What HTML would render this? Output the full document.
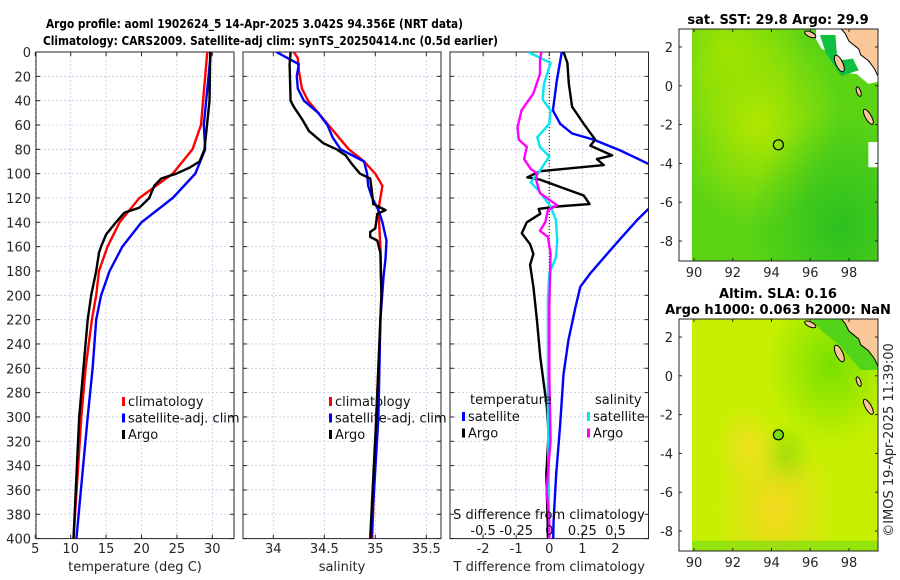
<!DOCTYPE html>
<html><head><meta charset="utf-8"><style>
html,body{margin:0;padding:0;background:#fff;}
svg{display:block;font-family:"DejaVu Sans","Liberation Sans",sans-serif;}
</style></head><body>
<svg id="fig" width="900" height="580" viewBox="0 0 900 580" xmlns="http://www.w3.org/2000/svg">
<defs>
<clipPath id="c1"><rect x="36" y="52" width="198" height="487"/></clipPath>
<clipPath id="c2"><rect x="243" y="52" width="198" height="487"/></clipPath>
<clipPath id="c3"><rect x="450" y="52" width="198" height="487"/></clipPath>
<clipPath id="cm1"><rect x="692" y="29" width="186" height="232"/></clipPath>
<clipPath id="cm2"><rect x="692" y="319" width="186" height="232"/></clipPath>
<radialGradient id="sstY" cx="0.35" cy="0.4" r="0.45"><stop offset="0" stop-color="#b4e800"/><stop offset="1" stop-color="#b4e800" stop-opacity="0"/></radialGradient>
<radialGradient id="sstY2" cx="0.2" cy="0.1" r="0.4"><stop offset="0" stop-color="#a0e400"/><stop offset="1" stop-color="#a0e400" stop-opacity="0"/></radialGradient>
<radialGradient id="sstG" cx="0.8" cy="0.85" r="0.5"><stop offset="0" stop-color="#2cc020"/><stop offset="1" stop-color="#2cc020" stop-opacity="0"/></radialGradient>
<radialGradient id="slaO" cx="0.45" cy="0.82" r="0.35"><stop offset="0" stop-color="#f4d820"/><stop offset="1" stop-color="#f4d820" stop-opacity="0"/></radialGradient>
<radialGradient id="slaO2" cx="0.3" cy="0.55" r="0.18"><stop offset="0" stop-color="#f0e020"/><stop offset="1" stop-color="#f0e020" stop-opacity="0"/></radialGradient>
<radialGradient id="slaG" cx="0.75" cy="0.2" r="0.35"><stop offset="0" stop-color="#78e000"/><stop offset="1" stop-color="#78e000" stop-opacity="0"/></radialGradient>
<radialGradient id="slaG2" cx="0.5" cy="0.6" r="0.15"><stop offset="0" stop-color="#80e000"/><stop offset="1" stop-color="#80e000" stop-opacity="0"/></radialGradient>
</defs>
<g id="titles" fill="#000" font-weight="bold" font-size="12.5">
<text x="46" y="28" textLength="417" lengthAdjust="spacingAndGlyphs">Argo profile: aoml 1902624_5 14-Apr-2025 3.042S 94.356E (NRT data)</text>
<text x="43" y="45" textLength="455" lengthAdjust="spacingAndGlyphs">Climatology: CARS2009. Satellite-adj clim: synTS_20250414.nc (0.5d earlier)</text>
</g>
<g id="panels"></g>
<g id="maps"></g>
<text x="895" y="440" font-size="13" fill="#262626" text-anchor="middle" transform="rotate(-90 895 440)" dy="-2">©IMOS 19-Apr-2025 11:39:00</text>
</svg>
<script>
// ---- data ----
const depthTicks=[0,20,40,60,80,100,120,140,160,180,200,220,240,260,280,300,320,340,360,380,400];
const tTicks=[5,10,15,20,25,30];
const sTicks=[34,34.5,35,35.5];
const dTicks=[-2,-1,0,1,2];
const dsTicks=[-0.5,-0.25,0,0.25,0.5];
const dsTickLabels=["-0.5","-0.25","0","0.25","0.5"];
// temperature profiles [depth, value]
const tClimDepth=[0,60,80,100,120,140,160,180,200,220,260,300,400];
const tClim=[29.3,28.4,27.2,24.4,19.7,16.9,15.2,14.0,13.6,13.0,12.1,11.5,10.4];
const tSatDepth=[0,60,80,100,120,140,160,180,200,220,260,300,400];
const tSat=[29.8,28.8,29.0,27.6,24.4,20.0,17.3,15.5,14.3,13.6,13.1,12.4,10.8];
const tArgoDepth=[0,40,80,90,95,100,104,110,120,128,132,140,150,160,165,180,200,220,260,300,400];
const tArgo=[29.7,29.6,28.9,28.2,26.8,24.9,22.8,21.8,21.1,19.7,17.6,16.4,15.0,14.3,14.0,13.6,12.9,12.4,11.8,11.2,10.4];
// salinity profiles
const sClimDepth=[0,5,15,30,40,60,80,90,100,110,130,160,200,220,300,400];
const sClim=[34.20,34.24,34.25,34.28,34.34,34.54,34.74,34.89,35.0,35.07,35.03,35.05,35.06,35.05,35.01,34.97];
const sSatDepth=[0,10,20,30,40,50,60,70,80,90,100,110,120,130,140,155,170,185,220,300,400];
const sSat=[34.03,34.25,34.23,34.24,34.30,34.44,34.53,34.58,34.66,34.89,34.92,34.93,34.97,35.03,35.07,35.11,35.10,35.08,35.05,35.03,34.96];
const sArgoDepth=[0,10,40,45,55,65,75,80,85,92,100,104,110,125,130,133,145,148,152,155,165,200,220,300,400];
const sArgo=[34.17,34.16,34.17,34.20,34.28,34.35,34.49,34.62,34.71,34.77,34.85,34.95,34.96,34.98,35.10,35.02,35.0,34.95,34.95,35.02,35.05,35.06,35.05,35.01,34.95];
// differences
const dTSatDepth=[0,23,48,59,67,72,81,92,105,118,129,138,152,166,182,193,210,237,265,306,347,385,400];
const dTSat=[0.38,0.23,0.11,0.33,0.69,1.34,2.15,3.0,3.6,3.4,3.0,2.66,2.2,1.75,1.24,0.94,0.79,0.58,0.43,0.33,0.21,0.13,0.12];
const dTArgoDepth=[0,9,26,45,49,59,72,77,85,88,93,98,103,105,118,125,127,129,133,140,149,158,166,175,193,221,251,292,314,347,385,400];
const dTArgo=[0.43,0.55,0.59,0.69,0.79,1.04,1.39,1.24,1.9,1.44,1.65,-0.27,-0.66,-0.27,1.04,1.22,0.23,-0.32,-0.27,-0.68,-0.83,-0.58,-0.48,-0.58,-0.48,-0.37,-0.27,-0.07,-0.02,-0.09,-0.05,-0.04];
const dSSatDepth=[0,9,26,39,48,59,70,78,86,99,107,114,127,138,155,169,182,204,237,292,400];
const dSSat=[-0.16,0.01,-0.04,-0.05,0.01,0.0,-0.09,-0.07,0.0,-0.08,-0.14,-0.08,0.01,0.05,0.06,0.05,0.0,-0.01,-0.01,-0.01,0.0];
const dSArgoDepth=[0,7,18,34,48,62,72,78,88,96,100,105,116,126,130,140,147,152,166,210,265,319,360,385,400];
const dSArgo=[-0.06,-0.07,-0.07,-0.12,-0.21,-0.24,-0.23,-0.17,-0.19,-0.14,-0.09,-0.10,-0.07,0.06,-0.01,-0.03,-0.07,-0.01,0.01,0.0,0.0,0.01,-0.02,0.0,0.0];
// map
const latTicks=[2,0,-2,-4,-6,-8];
const lonTicks=[90,92,94,96,98];
const floatLon=94.356, floatLat=-3.042;

// ---- helpers ----
const NS="http://www.w3.org/2000/svg";
function mk(tag,attrs,parent){const e=document.createElementNS(NS,tag);for(const k in attrs)e.setAttribute(k,attrs[k]);parent.appendChild(e);return e;}
const top0=52,bot0=538.6;
function yD(d){return top0+(d/400)*(bot0-top0);}
function lin(d0,d1,p0,p1){return v=>p0+(v-d0)/(d1-d0)*(p1-p0);}
const panels=document.getElementById('panels');
const grey="#262626";

function drawPanel(x0,w,xs,ticks,labels,name,showY,xlabel){
  const g=mk('g',{},panels);
  
  
  depthTicks.forEach(d=>{const l=mk('line',{x1:x0,x2:x0+w,y1:yD(d),y2:yD(d),stroke:"#c4cbe6","stroke-width":0.8,"stroke-dasharray":"2,2"},g);
    
    mk('line',{x1:x0,x2:x0+4,y1:yD(d),y2:yD(d),stroke:grey},g);mk('line',{x1:x0+w-4,x2:x0+w,y1:yD(d),y2:yD(d),stroke:grey},g);
    if(showY){const t=mk('text',{x:x0-5,y:yD(d)+5,"font-size":13,fill:grey,"text-anchor":"end"},g);t.textContent=d;
      }
  });
  ticks.forEach((v,i)=>{const x=xs(v);
    const l=mk('line',{x1:x,x2:x,y1:top0,y2:bot0,stroke:"#c4cbe6","stroke-width":0.8,"stroke-dasharray":"2,2"},g);
    
    mk('line',{x1:x,x2:x,y1:top0,y2:top0+4,stroke:grey},g);mk('line',{x1:x,x2:x,y1:bot0-4,y2:bot0,stroke:grey},g);
    if(labels){const t=mk('text',{x:x,y:553,"font-size":13,fill:grey,"text-anchor":"middle"},g);t.textContent=labels[i];
      }
  });
  const r=mk('rect',{x:x0,y:top0,width:w,height:bot0-top0,fill:"none",stroke:grey,"stroke-width":1},g);
  
  if(xlabel){const t=mk('text',{x:x0+w/2,y:571,"font-size":13,fill:grey,"text-anchor":"middle"},g);t.textContent=xlabel;
    }
  return g;
}
function line(g,depths,vals,xs,color,clip,name){
  const pts=depths.map((d,i)=>xs(vals[i]).toFixed(1)+","+yD(d).toFixed(1)).join(" ");
  const p=mk('polyline',{points:pts,fill:"none",stroke:color,"stroke-width":2.4,"stroke-linejoin":"round","clip-path":"url(#"+clip+")"},g);
  
}
function legend(g,x,y,items){
  items.forEach((it,i)=>{const yy=y+i*16.5;
    const m=mk('rect',{x:x,y:yy-9,width:3,height:9,fill:it[1]},g);
    
    const t=mk('text',{x:x+6,y:yy,"font-size":13,fill:"#111"},g);t.textContent=it[0];
    });
}
const xT=lin(5,30,35.3,212.3);
const g1=drawPanel(36,198,xT,tTicks,tTicks.map(String),'temperature-panel',true,'temperature (deg C)');
line(g1,tClimDepth,tClim,xT,"#ff0000","c1","climatology-temp-line");
line(g1,tSatDepth,tSat,xT,"#0000ff","c1","satellite-temp-line");
line(g1,tArgoDepth,tArgo,xT,"#000000","c1","argo-temp-line");
legend(g1,122,406,[["climatology","#ff0000"],["satellite-adj. clim","#0000ff"],["Argo","#000"]]);
const xS=lin(34,35,273.3,375.3);
const g2=drawPanel(243,198,xS,sTicks,["34","34.5","35","35.5"],'salinity-panel',false,'salinity');
line(g2,sClimDepth,sClim,xS,"#ff0000","c2","climatology-sal-line");
line(g2,sSatDepth,sSat,xS,"#0000ff","c2","satellite-sal-line");
line(g2,sArgoDepth,sArgo,xS,"#000000","c2","argo-sal-line");
legend(g2,329,406,[["climatology","#ff0000"],["satellite-adj. clim","#0000ff"],["Argo","#000"]]);
const xDT=lin(-3,3,450,648.5);
const xDS=lin(-0.75,0.75,450,648.5);
const g3=drawPanel(450,198.5,xDT,dTicks,null,'difference-panel',false,'T difference from climatology');
dTicks.forEach(v=>{const t=mk('text',{x:xDT(v),y:553,"font-size":13,fill:grey,"text-anchor":"middle"},g3);t.textContent=v;
  });
const z=mk('line',{x1:xDT(0),x2:xDT(0),y1:top0,y2:bot0,stroke:"#000","stroke-width":1,"stroke-dasharray":"1,2"},g3);

line(g3,dTSatDepth,dTSat,xDT,"#0000ff","c3","satellite-t-diff-line");
line(g3,dTArgoDepth,dTArgo,xDT,"#000000","c3","argo-t-diff-line");
line(g3,dSSatDepth,dSSat,xDS,"#00e8f0","c3","satellite-s-diff-line");
line(g3,dSArgoDepth,dSArgo,xDS,"#ff00ff","c3","argo-s-diff-line");
let tt=mk('text',{x:470,y:404,"font-size":13,fill:"#111"},g3);tt.textContent="temperature";

tt=mk('text',{x:595,y:404,"font-size":13,fill:"#111"},g3);tt.textContent="salinity";

legend(g3,462,421,[["satellite","#0000ff"],["Argo","#000"]]);
legend(g3,587,421,[["satellite","#00e8f0"],["Argo","#ff00ff"]]);
tt=mk('text',{x:549,y:519,"font-size":13,fill:"#111","text-anchor":"middle"},g3);tt.textContent="S difference from climatology";

dsTicks.forEach((v,i)=>{const t=mk('text',{x:xDS(v),y:535,"font-size":13,fill:"#111","text-anchor":"middle"},g3);t.textContent=dsTickLabels[i];
  });

// ---- maps ----
const maps=document.getElementById('maps');
function drawMap(top,name,kind,titles){
  const g=mk('g',{},maps);
  
  const ax0=679,ax1=878,h=232;
  const lx=lin(90,98,694,849), ly=lin(2,-8,top+18,top+212);
  const clip=kind==='sst'?'cm1':'cm2';
  const L=mk('g',{"clip-path":"url(#"+clip+")"},g);
  if(kind==='sst'){
    mk('rect',{x:692,y:top,width:186,height:h,fill:"#5cd414"},L);
    mk('rect',{x:692,y:top,width:186,height:h,fill:"url(#sstY)"},L);
    mk('rect',{x:692,y:top,width:186,height:h,fill:"url(#sstY2)"},L);
    mk('rect',{x:692,y:top,width:186,height:h,fill:"url(#sstG)"},L);
    mk('path',{d:`M${lx(96.3)},${top} L878,${top} L878,${ly(0.2)} L${lx(99.0)},${ly(0.1)} L${lx(98.4)},${ly(0.6)} L${lx(97.5)},${ly(0.7)} L${lx(97.3)},${ly(1.6)} L${lx(96.6)},${ly(1.9)} L${lx(96.3)},${ly(2.4)} Z`,fill:"#fff"},L);
    mk('path',{d:`M${lx(96.5)},${top+6} L${lx(97.3)},${top+6} L${lx(97.4)},${ly(1.3)} L${lx(98.2)},${ly(1.4)} L${lx(98.5)},${ly(0.8)} L${lx(97.6)},${ly(0.5)} L${lx(96.8)},${ly(1.7)} Z`,fill:"#10c040"},L);
    mk('rect',{x:lx(99.0),y:ly(-2.9),width:20,height:ly(-4.2)-ly(-2.9),fill:"#fff"},L);
  } else {
    mk('rect',{x:692,y:top,width:186,height:h,fill:"#c6f000"},L);
    mk('rect',{x:692,y:top,width:186,height:h,fill:"url(#slaG)"},L);
    mk('rect',{x:692,y:top,width:186,height:h,fill:"url(#slaG2)"},L);
    mk('rect',{x:692,y:top,width:186,height:h,fill:"url(#slaO)"},L);
    mk('rect',{x:692,y:top,width:186,height:h,fill:"url(#slaO2)"},L);
    mk('rect',{x:692,y:ly(-8.5),width:186,height:30,fill:"#70dc10",opacity:0.6},L);
    mk('path',{d:`M${lx(96)},${top} L878,${top} L878,${ly(0.3)} L${lx(98.6)},${ly(0.3)} L${lx(97.5)},${ly(1.6)} L${lx(96.6)},${ly(2.3)} Z`,fill:"#40d020",opacity:0.8},L);
  }
  const land=mk('path',{d:`M${lx(97.6)},${top} L878,${top} L878,${ly(0.5)} L${lx(99.3)},${ly(0.9)} L${lx(99.0)},${ly(1.3)} L${lx(98.6)},${ly(1.6)} L${lx(98.5)},${ly(1.9)} L${lx(98.0)},${ly(2.3)} L${lx(97.8)},${ly(2.7)} Z`,fill:"#fac898",stroke:"#000","stroke-width":1},L);
  
  // islands: [lon, lat, rx px, ry px, rotation]
  [[96.0,2.65,6,2.5,25],[97.5,1.15,3.5,9,-25],[98.5,-0.3,2,5,-20],[99.0,-1.6,3,8.5,-30]].forEach(s=>{
    const e=mk('ellipse',{cx:lx(s[0]),cy:ly(s[1]),rx:s[2],ry:s[3],fill:"#fac898",stroke:"#000","stroke-width":1,transform:`rotate(${s[4]} ${lx(s[0])} ${ly(s[1])})`},L);
    });
  const c=mk('circle',{cx:lx(floatLon),cy:ly(floatLat),r:5,fill:kind==='sst'?"none":"#78dc10",stroke:"#000","stroke-width":1.2},g);
  
  const fr=mk('rect',{x:ax0,y:top,width:ax1-ax0,height:h,fill:"none",stroke:grey,"stroke-width":1},g);
  
  latTicks.forEach(v=>{const y=ly(v);mk('line',{x1:ax0,x2:ax0+3,y1:y,y2:y,stroke:grey},g);mk('line',{x1:ax1-3,x2:ax1,y1:y,y2:y,stroke:grey},g);
    const t=mk('text',{x:ax0-6,y:y+5,"font-size":13,fill:grey,"text-anchor":"end"},g);t.textContent=v;
    });
  lonTicks.forEach(v=>{const x=lx(v);mk('line',{x1:x,x2:x,y1:top+h-3,y2:top+h,stroke:grey},g);mk('line',{x1:x,x2:x,y1:top,y2:top+3,stroke:grey},g);
    const t=mk('text',{x:x,y:top+h+16,"font-size":13,fill:grey,"text-anchor":"middle"},g);t.textContent=v;
    });
  titles.forEach((s,i)=>{const t=mk('text',{x:778,y:top-5-(titles.length-1-i)*16,"font-size":13,"font-weight":"bold",fill:"#000","text-anchor":"middle"},g);t.textContent=s;
    });
}
drawMap(29,'sst-map','sst',['sat. SST: 29.8 Argo: 29.9']);
drawMap(319,'sla-map','sla',['Altim. SLA: 0.16','Argo h1000: 0.063 h2000: NaN']);
</script>
</body></html>
